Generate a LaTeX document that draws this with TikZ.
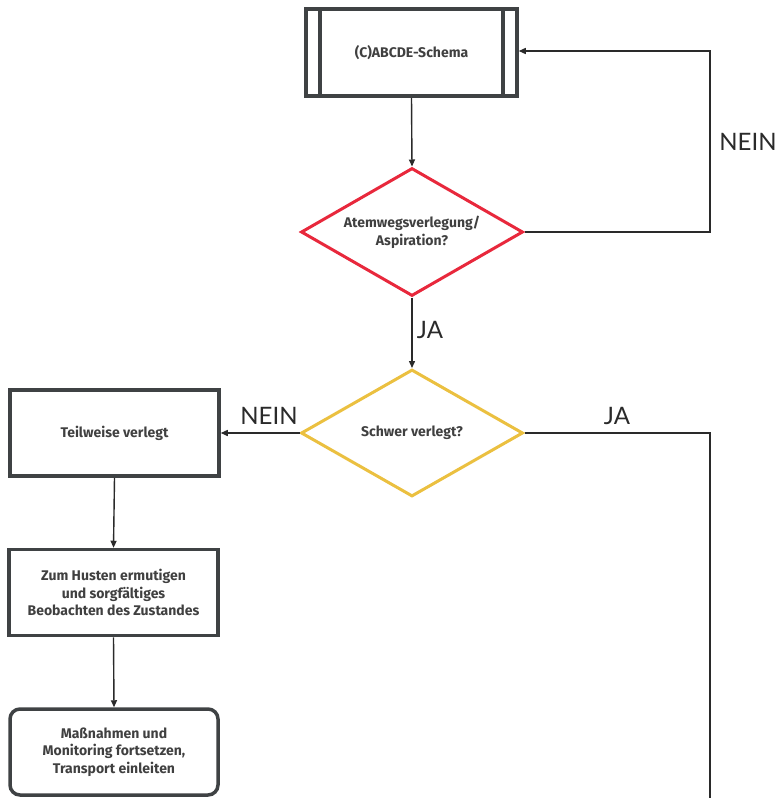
\documentclass[tikz,border=0pt]{standalone}
\usepackage{fontspec}
\setmainfont{Fira Sans}
\newfontfamily\labelfont{Lato}
\usetikzlibrary{shapes.geometric,arrows.meta}
\definecolor{boxgray}{HTML}{3F4244}
\definecolor{txtgray}{HTML}{404040}
\definecolor{dred}{HTML}{E8283C}
\definecolor{dyellow}{HTML}{EBC040}
\definecolor{linegray}{HTML}{2A2A2A}
\tikzset{
  procbox/.style={draw=boxgray, line width=3.5pt, fill=white, minimum width=208pt, minimum height=86pt, align=center, font=\fontsize{14}{17.5}\selectfont\bfseries, text=txtgray},
  endbox/.style={procbox, rounded corners=10pt},
  decision/.style={diamond, draw=#1, line width=3pt, fill=white, minimum width=222pt, minimum height=128pt, aspect=1.73, inner sep=0pt, align=center, font=\fontsize{14}{18}\selectfont\bfseries, text=txtgray},
  conn/.style={draw=linegray, line width=1.4pt},
  arr/.style={conn, -{Triangle[length=7pt,width=6pt]}},
  lbl/.style={font=\labelfont\fontsize{24}{28}\selectfont, text=linegray, inner sep=0pt}
}
\begin{document}
\begin{tikzpicture}[x=1pt,y=-1pt]
\useasboundingbox (0,0) rectangle (779,798);
% top predefined process box
\node[procbox, minimum width=211pt, minimum height=87pt] (abcde) at (411.5,52.5) {(C)ABCDE-Schema};
\draw[draw=boxgray, line width=3.5pt] (320,10) -- (320,95) (503,10) -- (503,95);
% decisions
\node[decision=dred, minimum width=222pt, minimum height=128pt] (d1) at (412,232) {Atemwegsverlegung/\\Aspiration?};
\node[decision=dyellow, minimum width=222pt, minimum height=127pt] (d2) at (412,433) {Schwer verlegt?};
% left boxes
\node[procbox, minimum width=209pt] (teil) at (114.5,433) {Teilweise verlegt};
\node[procbox, minimum width=209pt] (husten) at (113.5,592.5) {Zum Husten ermutigen\\und sorgfältiges\\Beobachten des Zustandes};
\node[endbox, minimum width=208pt] (mass) at (114,752) {Maßnahmen und\\Monitoring fortsetzen,\\Transport einleiten};
% coordinates
\coordinate (c1) at (710,232);
\coordinate (c2) at (710,51);
\coordinate (c3) at (710,433);
\coordinate (c4) at (710,798);
% connectors
\draw[arr] (abcde.south) -- (d1.north);
\draw[arr] (d1.east) -- (c1) -- (c2) -- (abcde.east |- c2);
\draw[arr] (d1.south) -- (d2.north);
\draw[arr] (d2.west) -- (teil.east);
\draw[conn] (d2.east) -- (c3) -- (c4);
\draw[arr] (teil.south) -- (husten.north);
\draw[arr] (husten.south) -- (mass.north);
% labels
\node[lbl] (lnein1) at (748,142) {NEIN};
\node[lbl] (lja1) at (430,330) {JA};
\node[lbl] (lnein2) at (269,416) {NEIN};
\node[lbl] (lja2) at (617,416) {JA};
\end{tikzpicture}
\end{document}
